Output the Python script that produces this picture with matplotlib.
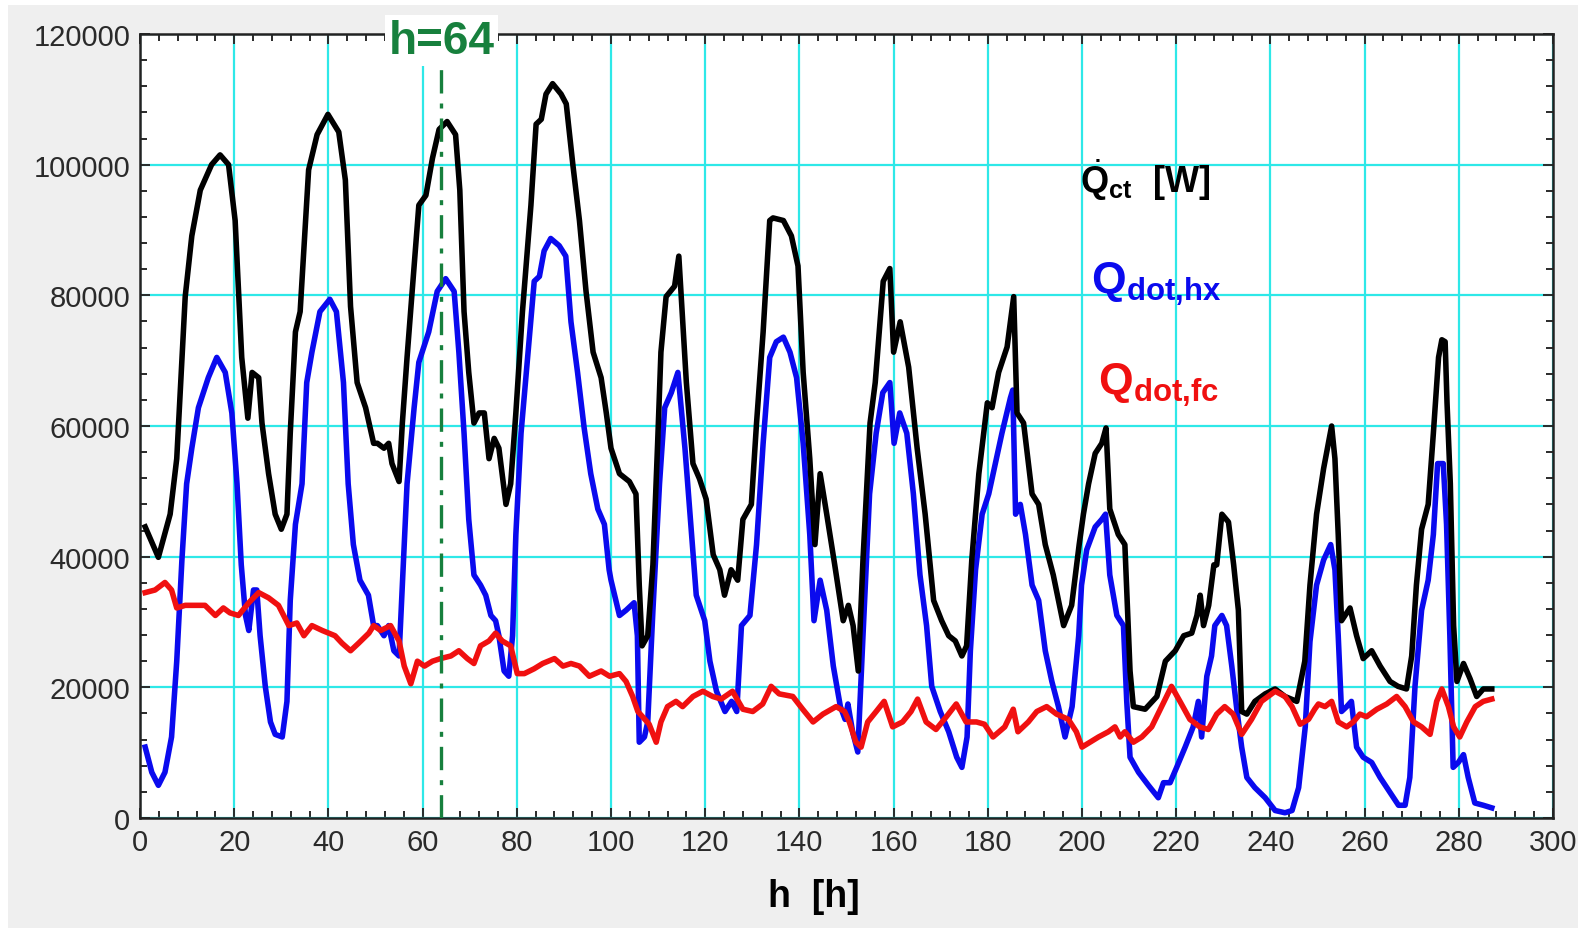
import numpy as np
import matplotlib
matplotlib.use('Agg')
import matplotlib.pyplot as plt
from matplotlib.patches import Rectangle
from matplotlib.ticker import MultipleLocator

plt.rcParams['font.family'] = ['Liberation Sans', 'DejaVu Sans']
plt.rcParams['mathtext.fontset'] = 'custom'
plt.rcParams['mathtext.rm'] = 'Liberation Sans'
plt.rcParams['mathtext.bf'] = 'Liberation Sans:bold'

# Q_ct [W] (black)
h_ct = [1.1, 3.9, 6.4, 7.8, 9.6, 11.0, 12.8, 15.2, 17.0, 18.8, 20.2, 21.6, 22.9, 23.8, 25.2, 25.9,
        27.3, 28.7, 30.0, 31.2, 31.9, 33.0, 34.0, 35.8, 37.6, 39.9, 42.2, 43.6, 44.7, 46.1, 47.9,
        49.6, 50.4, 51.8, 52.8, 53.5, 55.0, 55.7, 56.7, 58.2, 59.2, 60.7, 62.1, 63.5, 65.2, 67.0,
        67.9, 68.8, 69.8, 70.9, 72.0, 73.1, 74.1, 75.2, 76.2, 77.7, 78.7, 79.8, 81.2, 83.0, 84.1,
        85.2, 86.2, 87.6, 89.4, 90.5, 91.9, 93.3, 94.7, 96.2, 97.9, 99.0, 100.0, 101.8, 103.9,
        105.3, 106.0, 106.6, 107.8, 108.9, 109.9, 110.6, 111.7, 113.5, 114.4, 115.1, 116.0, 117.4,
        118.8, 120.2, 121.7, 123.1, 124.1, 125.5, 126.9, 128.0, 129.8, 130.9, 132.3, 133.7, 134.4,
        136.6, 138.3, 139.7, 140.8, 142.2, 143.3, 144.4, 145.8, 147.5, 149.3, 150.4, 151.4, 152.5,
        153.5, 155.0, 156.1, 157.8, 159.2, 160.0, 161.4, 163.2, 165.0, 166.7, 168.5, 170.2, 171.7,
        173.1, 174.5, 175.5, 176.6, 178.1, 179.9, 180.9, 182.3, 184.1, 185.5, 186.2, 187.6, 189.4,
        190.8, 192.2, 193.9, 196.1, 197.8, 199.4, 200.3, 201.4, 202.8, 204.2, 205.1, 205.9, 207.7,
        209.1, 210.2, 210.9, 213.4, 215.9, 217.7, 219.8, 221.6, 223.3, 224.4, 225.1, 225.8, 226.9,
        228.0, 228.6, 229.7, 231.1, 232.2, 233.2, 233.9, 235.0, 236.7, 238.9, 241.0, 243.1, 245.6,
        247.3, 248.4, 249.8, 251.3, 252.3, 253.0, 253.7, 254.4, 255.1, 256.9, 258.3, 259.7, 261.5,
        263.3, 265.4, 267.1, 268.9, 270.0, 271.0, 272.1, 273.5, 274.6, 275.7, 276.4, 277.1, 277.5,
        278.2, 278.9, 279.6, 281.0, 282.4, 283.8, 285.2, 287.0]
q_ct = [44560, 39900, 46500, 55000, 79800, 89100, 96100, 100000, 101500, 100000, 91450, 70500,
        61200, 68200, 67400, 60450, 52700, 46500, 44200, 46500, 58900, 74400, 77500, 99200, 104600,
        107700, 105000, 97650, 78300, 66650, 62800, 57350, 57350, 56600, 57350, 54250, 51500, 60450,
        70500, 84500, 93800, 95300, 101000, 105400, 106600, 104600, 96100, 77500, 68200, 60450,
        62000, 62000, 55000, 58100, 56600, 48000, 51150, 62000, 77500, 93800, 106200, 106950, 110800,
        112400, 110800, 109300, 100000, 91450, 80600, 71300, 67400, 62000, 56600, 52700, 51500,
        49600, 35650, 26350, 27900, 38750, 57350, 71300, 79800, 81400, 86000, 77500, 66650, 54250,
        51900, 48800, 40300, 38000, 34100, 38000, 36400, 45700, 48000, 60450, 74400, 91450, 91850,
        91450, 89100, 84500, 68200, 55000, 41850, 52700, 46500, 38750, 30200, 32550, 29450, 22500,
        39500, 60450, 66650, 82150, 84100, 71300, 75950, 69000, 56600, 46500, 33300, 30200, 27900,
        27100, 24800, 26350, 39500, 52700, 63550, 62800, 68200, 72100, 79800, 62000, 60450, 49600,
        48000, 41850, 37200, 29450, 32550, 41850, 46500, 51150, 55800, 57350, 59700, 47300, 43400,
        41850, 22500, 17050, 16650, 18600, 24000, 25600, 27900, 28300, 31000, 34100, 29450, 32550,
        38750, 38750, 46500, 45300, 38750, 31800, 16300, 15900, 17850, 19000, 19750, 18600, 17850,
        24000, 35650, 46500, 53500, 57350, 60000, 55000, 43400, 30200, 32150, 27900, 24400, 25600,
        23250, 20900, 20150, 19750, 24800, 35650, 44200, 48000, 58900, 70500, 73200, 72900, 63550,
        51150, 29450, 20900, 23650, 21300, 18600, 19750, 19750]

# Q_dot,hx (blue)
h_hx = [1.1, 2.5, 3.9, 5.3, 6.7, 7.8, 8.9, 9.9, 11.0, 12.4, 14.5, 16.3, 18.1, 19.5, 20.6, 21.5,
        22.4, 23.1, 24.1, 24.8, 25.5, 26.6, 27.7, 28.7, 30.2, 31.2, 31.9, 33.0, 34.4, 35.4, 36.5,
        38.2, 40.3, 41.7, 43.2, 44.2, 45.3, 46.7, 48.5, 49.6, 50.4, 51.8, 52.8, 53.9, 55.0, 55.7,
        56.7, 58.2, 59.2, 61.3, 63.1, 64.9, 66.7, 67.7, 68.8, 69.8, 70.9, 72.3, 73.4, 74.5, 75.5,
        76.2, 77.3, 78.3, 79.1, 79.8, 80.9, 82.3, 83.7, 84.8, 85.8, 87.2, 89.0, 90.4, 91.5, 92.9,
        94.3, 95.7, 97.2, 98.6, 99.6, 100.0, 101.8, 103.2, 104.9, 105.6, 106.0, 107.1, 107.8, 108.9,
        110.3, 111.4, 112.8, 114.2, 115.7, 117.1, 118.1, 119.9, 121.0, 122.4, 124.2, 125.6, 126.7,
        127.7, 129.5, 130.9, 132.3, 133.7, 135.1, 136.6, 138.0, 139.4, 140.8, 142.2, 143.1, 144.4,
        145.8, 147.2, 148.7, 149.7, 150.3, 151.3, 152.4, 153.5, 154.9, 156.3, 157.7, 159.2, 160.1,
        161.3, 162.8, 164.2, 165.6, 167.0, 168.1, 169.9, 171.7, 173.4, 174.5, 175.6, 176.3, 177.4,
        178.8, 180.2, 181.6, 183.0, 184.8, 185.3, 185.9, 186.9, 188.0, 189.4, 190.8, 192.2, 193.6,
        195.0, 196.4, 197.9, 199.3, 199.9, 201.0, 202.8, 204.2, 205.0, 205.9, 207.4, 208.8, 209.5,
        210.2, 212.0, 214.1, 216.2, 217.3, 218.7, 220.1, 221.9, 223.6, 224.7, 225.4, 226.5, 227.5,
        228.2, 229.7, 230.7, 231.8, 232.8, 233.9, 235.0, 236.7, 238.9, 241.0, 243.1, 244.6, 246.0,
        247.4, 248.4, 249.8, 251.3, 252.8, 253.7, 254.4, 255.1, 256.2, 257.2, 258.3, 259.7, 261.5,
        263.3, 265.4, 267.2, 268.6, 269.6, 270.7, 272.1, 273.5, 274.6, 275.5, 276.7, 277.4, 278.1,
        278.8, 279.9, 281.0, 282.0, 283.4, 285.2, 287.0]
q_hx = [10850, 7000, 5000, 7000, 12400, 24000, 39500, 51150, 56600, 62800, 67400, 70500, 68200,
        62000, 51150, 38750, 31000, 28700, 34900, 34900, 27900, 20150, 14700, 12800, 12400, 17850,
        33300, 44950, 51150, 66650, 71300, 77500, 79400, 77500, 66650, 51150, 41850, 36400, 34100,
        29450, 29450, 27900, 29450, 25600, 24800, 35650, 51150, 62800, 69750, 74400, 80600, 82550,
        80600, 71300, 58900, 45700, 37200, 35650, 34100, 31000, 30200, 27900, 22500, 21700, 27900,
        43400, 58900, 70500, 82150, 82900, 86800, 88700, 87600, 86000, 75950, 68200, 59700, 52700,
        47300, 44950, 38000, 36400, 31000, 31800, 32950, 27900, 11600, 12400, 14700, 31800, 51150,
        62800, 65100, 68200, 56600, 43400, 34100, 30200, 24000, 19400, 16300, 17850, 16300, 29450,
        31000, 41850, 57350, 70500, 72900, 73600, 71300, 67400, 57350, 43400, 30200, 36400, 31800,
        23250, 17050, 15100, 17450, 13200, 10100, 27900, 49600, 58900, 65100, 66650, 57350, 62000,
        58900, 49600, 37200, 29450, 20150, 16300, 13200, 9300, 7750, 12400, 25600, 38000, 46500,
        49600, 54250, 58900, 64300, 65500, 46500, 48000, 43400, 35650, 33300, 25600, 20900, 17050,
        12400, 17050, 27900, 35650, 41050, 44550, 45700, 46500, 37200, 31000, 29450, 17850, 9300,
        7000, 5000, 3100, 5400, 5400, 7750, 10850, 13950, 17850, 12400, 21700, 24800, 29450, 31000,
        29450, 23250, 17050, 10850, 6200, 4650, 3100, 1150, 800, 1150, 4650, 13950, 27000, 35650,
        39500, 41850, 38000, 27900, 16300, 17050, 17850, 10850, 9300, 8500, 6200, 3900, 1950, 1950,
        6200, 20150, 31800, 36400, 43400, 54250, 54250, 44950, 27900, 7750, 8500, 9700, 6200, 2300,
        1950, 1550]

# Q_dot,fc (red)
h_fc = [1.1, 3.2, 5.3, 6.7, 7.8, 9.6, 11.7, 13.8, 16.0, 17.7, 19.1, 20.9, 23.1, 25.2, 27.3, 29.4,
        31.6, 33.3, 34.8, 36.5, 38.7, 41.4, 42.9, 44.7, 46.4, 48.6, 49.6, 51.1, 53.2, 55.0, 56.1,
        57.5, 58.9, 60.4, 62.1, 63.8, 66.0, 67.7, 69.5, 70.9, 72.3, 74.1, 75.5, 76.9, 78.7, 80.1,
        81.6, 83.7, 85.5, 88.0, 89.8, 91.5, 93.3, 95.4, 97.9, 99.7, 101.8, 103.2, 104.6, 105.7,
        106.7, 108.1, 109.6, 110.6, 112.0, 113.8, 115.2, 117.4, 119.5, 121.6, 123.4, 125.8, 128.0,
        130.1, 132.2, 134.0, 135.7, 138.6, 140.7, 142.9, 145.0, 147.8, 149.6, 150.6, 152.0, 153.1,
        154.5, 156.3, 158.0, 159.8, 161.9, 163.7, 165.1, 166.9, 169.0, 171.2, 173.3, 175.4, 177.6,
        179.3, 181.1, 183.6, 185.4, 186.4, 188.6, 190.4, 192.5, 194.6, 197.1, 198.8, 200.0, 201.7,
        203.5, 205.6, 207.0, 208.1, 209.1, 210.9, 212.7, 214.8, 216.9, 219.0, 220.8, 222.9, 225.0,
        226.8, 228.6, 230.3, 232.1, 233.9, 236.0, 238.1, 241.0, 243.1, 244.6, 246.3, 248.1, 249.4,
        250.2, 251.6, 253.0, 254.4, 256.2, 257.6, 259.0, 260.4, 262.6, 264.7, 266.8, 268.6, 270.4,
        272.1, 273.9, 275.3, 276.4, 277.8, 278.9, 280.2, 281.7, 283.5, 285.2, 287.0]
q_fc = [34500, 34900, 36050, 34900, 32150, 32550, 32550, 32550, 31000, 32150, 31400, 31000, 32950,
        34500, 33700, 32550, 29450, 29850, 27900, 29450, 28700, 27900, 26750, 25600, 26750, 28300,
        29450, 28700, 29450, 27100, 23250, 20550, 24000, 23250, 24000, 24400, 24800, 25600, 24400,
        23650, 26350, 27100, 28300, 27100, 26350, 22100, 22100, 22850, 23650, 24400, 23250, 23650,
        23250, 21700, 22500, 21700, 22100, 20900, 18600, 16300, 15500, 14350, 11600, 14700, 17050,
        17850, 17050, 18600, 19400, 18600, 18200, 19400, 16650, 16300, 17450, 20150, 19000, 18600,
        16650, 14700, 15900, 17050, 16300, 14700, 11600, 10850, 14700, 16300, 17850, 13950, 14700,
        16300, 18200, 14700, 13550, 15500, 17450, 14700, 14700, 14350, 12400, 13950, 16650, 13200,
        14700, 16300, 17050, 15900, 15100, 13200, 10850, 11600, 12400, 13200, 13950, 12400, 13200,
        11600, 12400, 13950, 17050, 20150, 17850, 15100, 13950, 13550, 15900, 17050, 15900, 12800,
        15100, 17850, 19400, 18600, 17050, 14350, 15100, 16650, 17450, 17050, 17850, 14700, 13950,
        14700, 15900, 15500, 16650, 17450, 18600, 17050, 14700, 13950, 12800, 17850, 19750, 17050,
        13950, 12400, 14700, 17050, 17850, 18200]

H_MARK = 64

fig = plt.figure(figsize=(15.78, 9.29), dpi=100, facecolor='white')
# grey panel behind the chart (the reference has a thin white edge top/left)
fig.patches.append(Rectangle((8 / 1578, 0), 1, (929 - 6) / 929, transform=fig.transFigure,
                             facecolor='#efefef', edgecolor='none', zorder=-10))

ax = fig.add_axes([140 / 1578, 1 - 819 / 929, (1553 - 140) / 1578, (819 - 35) / 929])
ax.set_facecolor('white')

ax.plot(h_ct, q_ct, color='black', lw=4.0, zorder=4)
ax.plot(h_hx, q_hx, color='#0a0aee', lw=4.0, zorder=3)
ax.plot(h_fc, q_fc, color='#f01010', lw=4.0, zorder=5)

ax.plot([H_MARK, H_MARK], [0, 115500], color='#17803d', lw=2.4, ls=(0, (7, 3, 1.5, 3)), zorder=6)
ax.text(H_MARK, 119000, f'h={H_MARK}', color='#17803d', fontsize=33, fontweight='bold',
        ha='center', va='center', zorder=10, clip_on=False,
        bbox=dict(boxstyle='square,pad=0.08', facecolor='white', edgecolor='none'))

ax.set_xlim(0, 300)
ax.set_ylim(0, 120000)
ax.xaxis.set_major_locator(MultipleLocator(20))
ax.xaxis.set_minor_locator(MultipleLocator(4))
ax.yaxis.set_major_locator(MultipleLocator(20000))
ax.yaxis.set_minor_locator(MultipleLocator(4000))
ax.grid(True, which='major', color='#2ee8e8', lw=1.6, zorder=1)
ax.set_axisbelow(True)
ax.tick_params(which='both', direction='in', top=True, right=True, colors='#2a2a2a',
               labelsize=21, width=1.4)
ax.tick_params(which='major', length=7, pad=7)
ax.tick_params(which='minor', length=5)
for side in ax.spines.values():
    side.set_color('#222222')
    side.set_linewidth(1.8)

ax.set_xlabel('h  [h]', fontsize=27, fontweight='bold', va='center')
ax.xaxis.set_label_coords(0.477, -0.1)

# series labels written inside the plot
ax.text(199.5, 97700, r'$\dot{\mathbf{Q}}_{\mathbf{ct}}$  [W]', color='black', fontsize=26,
        fontweight='bold', ha='left', va='center', zorder=8)
ax.text(202.0, 81900, r'$\mathbf{Q}_{\mathbf{dot{,}hx}}$', color='#0a0aee', fontsize=32,
        ha='left', va='center', zorder=8)
ax.text(203.5, 66400, r'$\mathbf{Q}_{\mathbf{dot{,}fc}}$', color='#f01010', fontsize=32,
        ha='left', va='center', zorder=8)

fig.savefig('out.png', dpi=100, facecolor=fig.get_facecolor())
plt.close(fig)
